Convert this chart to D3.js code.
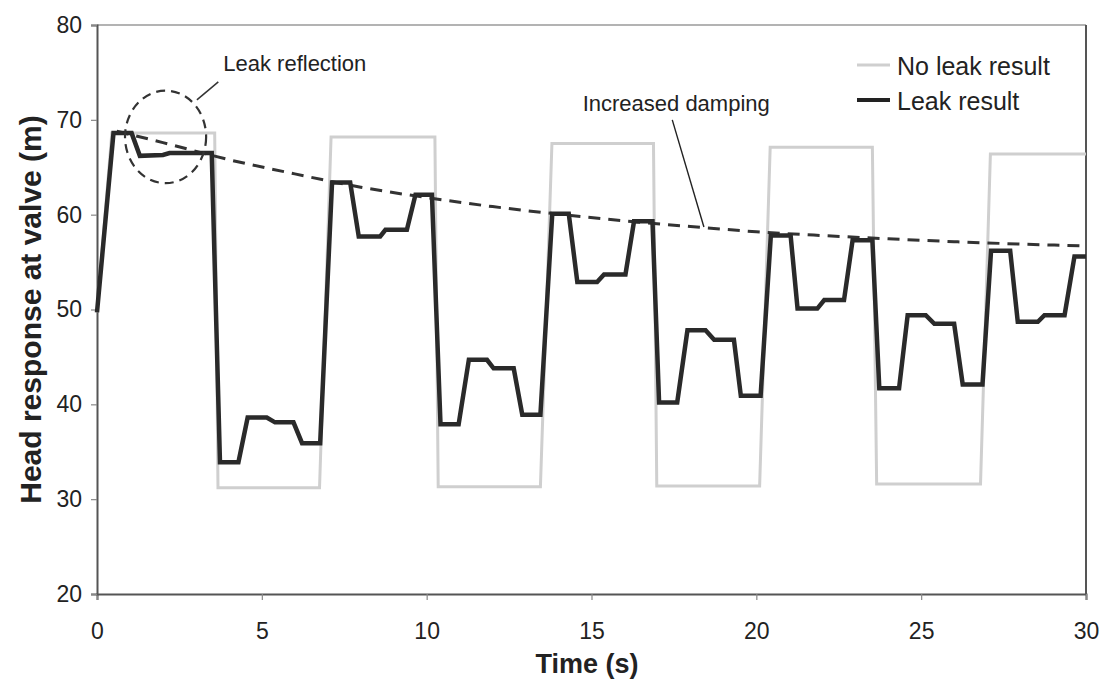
<!DOCTYPE html>
<html>
<head>
<meta charset="utf-8">
<script src="https://cdn.jsdelivr.net/npm/d3@7"></script>
<style>
  html, body { margin: 0; padding: 0; background: #fff; }
  svg { display: block; font-family: "Liberation Sans", Arial, Helvetica, sans-serif; }
</style>
</head>
<body>
<svg id="chart" width="1106" height="688"></svg>
<script>
// Axis ticks
const xTicks = [0, 5, 10, 15, 20, 25, 30];
const yTicks = [20, 30, 40, 50, 60, 70, 80];

// Head at the valve without a leak (s, m)
const noLeakTime = [0, 0.45, 3.57, 3.67, 6.75, 7.1, 10.25, 10.35, 13.45, 13.8, 16.88, 16.98, 20.1, 20.42, 23.52, 23.65, 26.8, 27.1, 30];
const noLeakHead = [49.7, 68.6, 68.6, 31.2, 31.2, 68.2, 68.2, 31.3, 31.3, 67.5, 67.5, 31.4, 31.4, 67.1, 67.1, 31.6, 31.6, 66.4, 66.4];

// Head at the valve with a leak (s, m)
const leakTime = [0, 0.5, 1.05, 1.3, 2.0, 2.2, 3.48, 3.73, 4.29, 4.57, 5.15, 5.4, 5.96, 6.22, 6.77,
  7.13, 7.68, 7.94, 8.59, 8.75, 9.4, 9.66, 10.16, 10.42, 10.97, 11.28, 11.83, 12.03, 12.64, 12.9, 13.45,
  13.81, 14.31, 14.57, 15.17, 15.38, 16.03, 16.29, 16.85, 17.05, 17.6, 17.91, 18.46, 18.72, 19.32, 19.53, 20.13,
  20.44, 21.04, 21.25, 21.85, 22.06, 22.66, 22.92, 23.52, 23.73, 24.33, 24.59, 25.14, 25.4, 26.0, 26.26, 26.86,
  27.12, 27.7, 27.93, 28.54, 28.74, 29.35, 29.65, 30.0];
const leakHead = [49.7, 68.6, 68.6, 66.2, 66.3, 66.5, 66.5, 33.9, 33.9, 38.6, 38.6, 38.1, 38.1, 35.9, 35.9,
  63.4, 63.4, 57.7, 57.7, 58.4, 58.4, 62.1, 62.1, 37.9, 37.9, 44.7, 44.7, 43.8, 43.8, 38.9, 38.9,
  60.1, 60.1, 52.9, 52.9, 53.7, 53.7, 59.3, 59.3, 40.2, 40.2, 47.8, 47.8, 46.8, 46.8, 40.9, 40.9,
  57.8, 57.8, 50.1, 50.1, 51.0, 51.0, 57.3, 57.3, 41.7, 41.7, 49.4, 49.4, 48.5, 48.5, 42.1, 42.1,
  56.2, 56.2, 48.7, 48.7, 49.4, 49.4, 55.6, 55.6];

// Envelope of the leak peaks
const dampingTime = [0.6, 2, 4, 6, 8, 10, 12, 14, 16, 18, 20, 22, 24, 26, 28, 30];
const dampingHead = [68.8, 67.6, 65.8, 64.3, 62.9, 61.8, 60.85, 60.05, 59.35, 58.75, 58.2, 57.8, 57.45, 57.15, 56.9, 56.7];

const seriesNames = ["No leak result", "Leak result"];
const annotationTexts = ["Leak reflection", "Increased damping"];
const xTitle = "Time (s)";
const yTitle = "Head response at valve (m)";

const svg = d3.select("#chart");
const x = d3.scaleLinear().domain([0, 30]).range([97, 1086]);
const y = d3.scaleLinear().domain([20, 80]).range([594, 25]);

// Plot frame
const frame = svg.append("g");
frame.append("line").attr("x1", x(0)).attr("x2", x(30)).attr("y1", y(80)).attr("y2", y(80))
  .attr("stroke", "#9a9a9a").attr("stroke-width", 1.5);
frame.append("line").attr("x1", x(30)).attr("x2", x(30)).attr("y1", y(80)).attr("y2", y(20))
  .attr("stroke", "#555").attr("stroke-width", 2);

// Axes
const xAxis = svg.append("g").attr("transform", `translate(0,${y(20)})`)
  .call(d3.axisBottom(x).tickValues(xTicks).tickSize(6).tickPadding(23).tickFormat(d3.format("d")));
const yAxis = svg.append("g").attr("transform", `translate(${x(0)},0)`)
  .call(d3.axisLeft(y).tickValues(yTicks).tickSize(6).tickPadding(9).tickFormat(d3.format("d")));
[xAxis, yAxis].forEach(g => {
  g.select(".domain").attr("stroke", "#555").attr("stroke-width", 2);
  g.selectAll(".tick line").attr("stroke", "#888").attr("stroke-width", 1.2);
  g.selectAll(".tick text").attr("fill", "#222").style("font-size", "23px")
    .style("font-family", '"Liberation Sans", Arial, sans-serif');
});
xAxis.selectAll(".tick text").attr("dy", "0.71em");

// Axis titles
svg.append("text").attr("x", 587).attr("y", 673)
  .attr("text-anchor", "middle").attr("font-size", 27).attr("font-weight", "bold").attr("fill", "#222")
  .text(xTitle);
svg.append("text").attr("transform", `translate(41,${(y(20) + y(80)) / 2}) rotate(-90)`)
  .attr("text-anchor", "middle").attr("font-size", 30).attr("font-weight", "bold").attr("fill", "#222")
  .text(yTitle);

const line = d3.line().x(d => x(d[0])).y(d => y(d[1]));

// No-leak response
svg.append("path").datum(d3.zip(noLeakTime, noLeakHead))
  .attr("fill", "none").attr("stroke", "#cfcfcf").attr("stroke-width", 3)
  .attr("stroke-linejoin", "miter").attr("d", line);

// Damping envelope
svg.append("path").datum(d3.zip(dampingTime, dampingHead))
  .attr("fill", "none").attr("stroke", "#333").attr("stroke-width", 3)
  .attr("stroke-dasharray", "12,8").attr("d", line.curve(d3.curveMonotoneX));
line.curve(d3.curveLinear);

// Leak response
svg.append("path").datum(d3.zip(leakTime, leakHead))
  .attr("fill", "none").attr("stroke", "#2a2a2a").attr("stroke-width", 4.5)
  .attr("stroke-linejoin", "miter").attr("d", line);

// Leak reflection annotation
const ec = [2.08, 68.2];
svg.append("ellipse")
  .attr("cx", x(ec[0])).attr("cy", y(ec[1]))
  .attr("rx", x(ec[0] + 1.23) - x(ec[0])).attr("ry", y(ec[1]) - y(ec[1] + 4.88))
  .attr("fill", "none").attr("stroke", "#333").attr("stroke-width", 2.2).attr("stroke-dasharray", "9,6");
svg.append("line").attr("x1", x(3.03)).attr("y1", y(72.1)).attr("x2", x(3.68)).attr("y2", y(74.0))
  .attr("stroke", "#333").attr("stroke-width", 1.5);
svg.append("text").attr("x", x(3.83)).attr("y", y(75.15)).attr("font-size", 22).attr("fill", "#222")
  .text(annotationTexts[0]);

// Increased damping annotation
svg.append("line").attr("x1", x(17.45)).attr("y1", y(70.0)).attr("x2", x(18.41)).attr("y2", y(58.7))
  .attr("stroke", "#222").attr("stroke-width", 1.4);
svg.append("text").attr("x", x(17.57)).attr("y", y(70.9)).attr("text-anchor", "middle")
  .attr("font-size", 22).attr("fill", "#222").text(annotationTexts[1]);

// Legend
const legend = svg.append("g").attr("transform", "translate(857,0)");
const legendRows = [
  { name: seriesNames[0], y: 65, stroke: "#cfcfcf", width: 3 },
  { name: seriesNames[1], y: 100, stroke: "#222", width: 4 }
];
legendRows.forEach(r => {
  legend.append("line").attr("x1", 0).attr("x2", 33).attr("y1", r.y).attr("y2", r.y)
    .attr("stroke", r.stroke).attr("stroke-width", r.width);
  legend.append("text").attr("x", 40).attr("y", r.y + 10).attr("font-size", 25).attr("fill", "#222")
    .text(r.name);
});
</script>
</body>
</html>
